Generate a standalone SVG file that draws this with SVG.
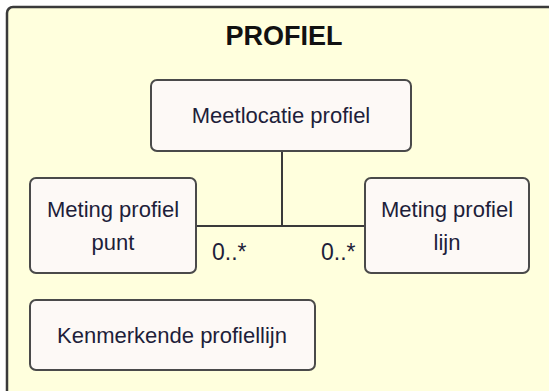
<svg xmlns="http://www.w3.org/2000/svg" width="549" height="391" viewBox="0 0 549 391">
<style>
.frame{fill:#FFFFDD;stroke:#3a3a3a;stroke-width:2.5}
.node{fill:#FDF9F6;stroke:#4a4a4a;stroke-width:2}
.t{font-family:"Liberation Sans",Arial,sans-serif;font-size:22px;fill:#1e1e3a;text-anchor:middle}
.title{font-family:"Liberation Sans",Arial,sans-serif;font-size:27px;font-weight:bold;fill:#111;text-anchor:middle}
.conn{stroke:#3a3a3a;stroke-width:2;fill:none}
.m{font-family:"Liberation Sans",Arial,sans-serif;font-size:23px;fill:#1e1e3a}
</style>
<rect width="549" height="391" fill="#ffffff"/>
<g id="package">
<rect class="frame" x="7" y="7" width="560" height="400" rx="6"/>
<text class="title" x="284" y="45">PROFIEL</text>
</g>
<g id="connectors">
<path class="conn" d="M282 152 V226 M196 226 H365"/>
<text class="m" x="212" y="260">0..*</text>
<text class="m" x="321" y="260">0..*</text>
</g>
<g id="meetlocatie">
<rect class="node" x="151" y="80" width="260" height="71" rx="6"/>
<text class="t" x="281" y="123">Meetlocatie profiel</text>
</g>
<g id="punt">
<rect class="node" x="30" y="178" width="166" height="95" rx="6"/>
<text class="t" x="113" y="217">Meting profiel</text>
<text class="t" x="113" y="250">punt</text>
</g>
<g id="lijn">
<rect class="node" x="365" y="178" width="164" height="95" rx="6"/>
<text class="t" x="447" y="217">Meting profiel</text>
<text class="t" x="447" y="250">lijn</text>
</g>
<g id="kenmerkende">
<rect class="node" x="30" y="300" width="285" height="70" rx="6"/>
<text class="t" x="172" y="343">Kenmerkende profiellijn</text>
</g>
</svg>
